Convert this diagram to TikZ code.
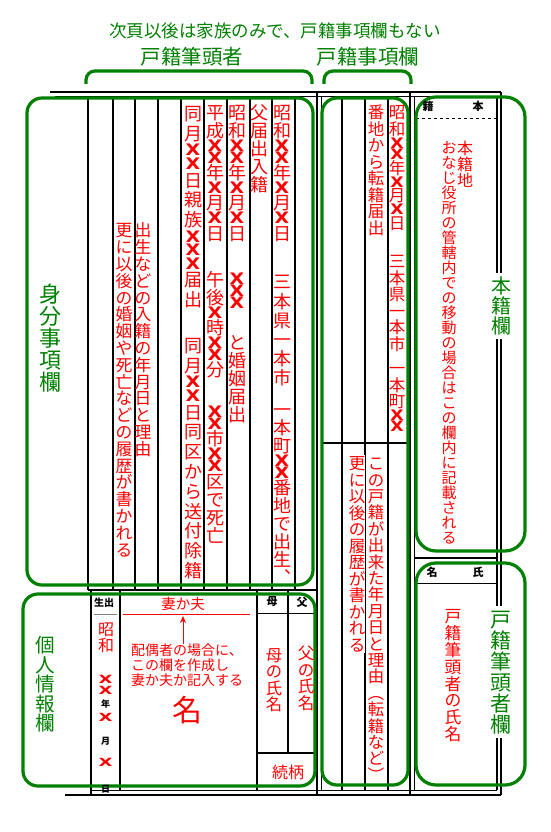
\documentclass[tikz,border=0pt]{standalone}
\usepackage{fontspec}
\usepackage{graphicx}
\setmainfont{Noto Sans CJK JP}
\newfontfamily\xfont{DejaVu Sans}
\usetikzlibrary{arrows.meta}
\definecolor{gr}{RGB}{0,128,0}
\definecolor{rd}{RGB}{255,0,0}
\makeatletter
\def\vtnum{100}
\newcommand\vt[2][100]{\vbox{\def\vtnum{#1}\offinterlineskip\vt@loop#2\relax}}
\def\vt@loop#1{\ifx\relax#1\else\vt@one{#1}\expandafter\vt@loop\fi}
\def\vt@one#1{\ifx X#1\vt@X\else\vt@C{#1}\fi}
\def\vt@C#1{\hbox to 1em{\hss\vrule width0pt height\dimexpr .88em*\vtnum/100\relax depth\dimexpr .12em*\vtnum/100\relax\relax#1\hss}}
\def\vt@X{\hbox to 1em{\hss\vrule width0pt height\dimexpr .66em*\vtnum/100\relax depth\dimexpr .02em*\vtnum/100\relax\relax{\xfont\bfseries\scalebox{1.05}[0.88]{X}}\hss}}
\makeatother
\begin{document}
\begin{tikzpicture}[x=1pt,y=-1pt,
  frm/.style={line width=1.1pt},
  frmb/.style={line width=2.2pt},
  gbox/.style={draw=gr, line width=3.2pt, rounded corners=15pt},
  gboxr/.style={draw=gr, line width=3.2pt, rounded corners=20pt},
  brace/.style={draw=gr, line width=3.2pt, rounded corners=9pt},
  vtx/.style={inner sep=0pt, anchor=north},
  rtxt/.style={text=rd},
  gtxt/.style={text=gr},
  fs/.style={font=\fontsize{#1}{#1}\selectfont},
  hdr/.style={font=\fontsize{11}{11}\selectfont\bfseries, inner sep=0pt},
  smb/.style={font=\fontsize{9}{9}\selectfont\bfseries, inner sep=0pt},
  bx/.style={text=rd, inner sep=0pt, font=\xfont\bfseries\fontsize{15}{15}\selectfont},
  lbl/.style={inner sep=3pt, anchor=north, fill=white, text=gr}
]
\useasboundingbox[fill=white] (0,0) rectangle (550,832);

% ---------- form lines ----------
\draw[frmb] (50,92) -- (501,92);
\draw[line width=0.7pt] (55,96) -- (497,96);
\draw[line width=0.7pt] (90,790) -- (497,790);
\draw[frmb] (65,795) -- (501,795);
\foreach \x in {88,113,135,158,181,204,227,250,272,295} \draw[frm] (\x,96) -- (\x,590);
\draw[line width=1.6pt] (88,590) -- (317,590);
\draw[line width=1.6pt] (317,92) -- (317,795);
\draw[line width=1pt] (321,96) -- (321,790);
\draw[frmb] (91,590) -- (91,795);
\draw[frm] (120,590) -- (120,790);
\draw[frm] (257,590) -- (257,790);
\draw[frm] (288,590) -- (288,753);
\draw[frm] (257,753) -- (317,753);
\draw[line width=0.8pt] (257,613) -- (317,613);
\draw[gray, line width=0.8pt] (94,614) -- (117,614);
\foreach \x in {342,365,388} \draw[frm] (\x,96) -- (\x,790);
\draw[frm] (321,443) -- (410,443);
\draw[line width=1.6pt] (410,92) -- (410,795);
\draw[line width=1pt] (414,96) -- (414,790);
\draw[line width=1.2pt] (497,96) -- (497,790);
\draw[frmb] (501,92) -- (501,795);
\draw[dashed, line width=0.8pt] (416,118) -- (497,118);
\draw[line width=1.6pt] (414,558) -- (497,558);
\draw[line width=1pt] (414,583) -- (497,583);
\draw[rd, line width=0.8pt] (123,614) -- (250,614);

% ---------- green frames ----------
\draw[gbox] (27,98) rectangle (313,585);
\draw[gbox] (23,594) rectangle (315,786);
\draw[gbox] (322,98) rectangle (408,785);
\draw[gboxr] (416,97) rectangle (525,551);
\draw[gboxr] (416,563) rectangle (525,785);
\draw[brace] (86,84) -- (86,71) -- (312,71) -- (312,84);
\draw[brace] (324,84) -- (324,71) -- (411,71) -- (411,84);

% ---------- top labels ----------
\node[inner sep=0pt, gtxt, fs=17.5] (title) at (275,31) {次頁以後は家族のみで、戸籍事項欄もない};
\node[inner sep=0pt, gtxt, fs=20.5] (lhead) at (192,57) {戸籍筆頭者};
\node[inner sep=0pt, gtxt, fs=20.5] (rhead) at (368,57) {戸籍事項欄};

% ---------- printed headers ----------
\node[hdr] (h1) at (428,106) {籍};
\node[hdr] (h2) at (478,106) {本};
\node[hdr] (h3) at (432,572) {名};
\node[hdr] (h4) at (478,572) {氏};
\node[inner sep=0pt, font=\fontsize{10}{10}\selectfont\bfseries] (h5) at (104,603) {生出};
\node[hdr] (h6) at (272,602) {母};
\node[hdr] (h7) at (302,602) {父};

% ---------- 身分事項 columns ----------
\node[vtx, rtxt, fs=18] (c1a) at (282,103) {\vt{昭和XX年X月X日}};
\node[vtx, rtxt, fs=18] (c1b) at (282,272) {\vt[106]{三本県一本市}};
\node[vtx, rtxt, fs=18] (c1c) at (282,400) {\vt{一本町XX番地で出生︑}};
\node[vtx, rtxt, fs=18] (c2a) at (259,103) {\vt{父届出入籍}};
\node[vtx, rtxt, fs=18] (c3a) at (237,103) {\vt{昭和XX年X月X日}};
\node[vtx, rtxt, fs=18] (c3b) at (237,272) {\vt{XXX}};
\node[vtx, rtxt, fs=18] (c3c) at (237,333) {\vt{と婚姻届出}};
\node[vtx, rtxt, fs=18] (c4a) at (215,103) {\vt{平成XX年X月X日}};
\node[vtx, rtxt, fs=18] (c4b) at (215,270) {\vt{午後X時XX分}};
\node[vtx, rtxt, fs=18] (c4c) at (215,405) {\vt{XX市XX区で死亡}};
\node[vtx, rtxt, fs=18] (c5a) at (193,103) {\vt[110]{同月XX日親族XXX届出}};
\node[vtx, rtxt, fs=18] (c5b) at (193,335) {\vt[110]{同月XX日同区から送付除籍}};
\node[vtx, rtxt, fs=16.8] (c6) at (143,222) {\vt{出生などの入籍の年月日と理由}};
\node[vtx, rtxt, fs=16.8] (c7) at (124,222) {\vt{更に以後の婚姻や死亡などの履歴が書かれる}};

% ---------- 戸籍事項 columns ----------
\node[vtx, rtxt, fs=16.5] (d1a) at (397,104) {\vt{昭和XX年X月X日}};
\node[vtx, rtxt, fs=16.5] (d1b) at (397,253) {\vt{三本県一本市}};
\node[vtx, rtxt, fs=16.5] (d1c) at (397,360) {\vt{一本町XX}};
\node[vtx, rtxt, fs=16.5] (d2) at (376,104) {\vt{番地から転籍届出}};
\node[vtx, rtxt, fs=16.4, fill=white] (d3) at (376,455) {\vt{この戸籍が出来た年月日と理由︵転籍など︶}};
\node[vtx, rtxt, fs=16.5, fill=white] (d4) at (357,455) {\vt{更に以後の履歴が書かれる}};

% ---------- 本籍 / 氏名 ----------
\node[vtx, rtxt, fs=16] (e1) at (465,140) {\vt{本籍地}};
\node[vtx, rtxt, fs=15] (e2) at (449,140) {\vt{おなじ役所の管轄内での移動の場合はこの欄内に記載される}};
\node[vtx, rtxt, fs=16.8] (e3) at (453,608) {\vt{戸籍筆頭者の氏名}};

% ---------- 個人情報 ----------
\node[vtx, rtxt, fs=16] (b1) at (106,621) {\vt{昭和}};
\node[bx] (bx1) at (105.5,679) {\scalebox{1.2}[0.75]{X}};
\node[bx] (bx2) at (105.5,690) {\scalebox{1.2}[0.75]{X}};
\node[smb] (by) at (105.5,704) {年};
\node[bx] (bx3) at (105.5,717) {\scalebox{1.2}[0.75]{X}};
\node[smb] (bm) at (105.5,741) {月};
\node[bx] (bx4) at (105.5,762) {\scalebox{1.2}[0.75]{X}};
\node[smb] (bd) at (105.5,789) {日};
\node[inner sep=0pt, rtxt, fs=14.5] (spouse) at (183,604) {妻か夫};
\node[inner sep=0pt, rtxt, anchor=north west, align=left, font=\fontsize{14}{15}\selectfont] (hint) at (131,644) {配偶者の場合に、\\この欄を作成し\\妻か夫か記入する};
\coordinate (atop) at (183,616);
\draw[rd, line width=1pt, -{Stealth[length=7pt,width=6pt]}] (hint.north -| atop) -- (atop);
\node[inner sep=0pt, rtxt, fs=30] (mei) at (187,710) {名};
\node[vtx, rtxt, fs=16.3] (mom) at (274,647) {\vt{母の氏名}};
\node[vtx, rtxt, fs=16.5] (dad) at (306,645) {\vt{父の氏名}};
\node[inner sep=0pt, rtxt, fs=16] (zoku) at (288,772) {続柄};

% ---------- green side labels ----------
\node[vtx, gtxt, fs=22] (l1) at (50,283) {\vt{身分事項欄}};
\node[vtx, gtxt, fs=19.6] (l2) at (45,635) {\vt{個人情報欄}};
\node[lbl, fs=20] (l3) at (501,273) {\vt{本籍欄}};
\node[lbl, fs=21] (l4) at (501,606) {\vt{戸籍筆頭者欄}};
\end{tikzpicture}
\end{document}
